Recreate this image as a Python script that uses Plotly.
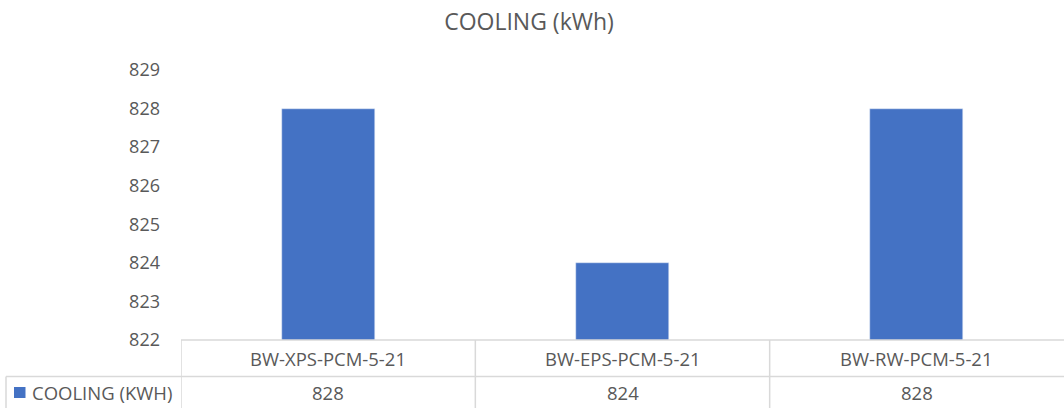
import plotly.graph_objects as go

categories = ["BW-XPS-PCM-5-21", "BW-EPS-PCM-5-21", "BW-RW-PCM-5-21"]
values = [828, 824, 828]
series_name = "COOLING (kWh)"
y_ticks = [822, 823, 824, 825, 826, 827, 828, 829]

W, H = 1064, 408
FONT = "Open Sans"
TXT = "#595959"
GRID = "#d9d9d9"
BLUE = "#4472C4"
TBL_SIZE = 18.5


def px(x):
    return x / W


def py(y):
    return 1 - y / H


fig = go.Figure(
    go.Bar(x=categories, y=values, marker_color=BLUE, width=0.316, name=series_name)
)

shapes = []
shapes.append(dict(type="line", xref="paper", yref="paper", x0=px(181), x1=1, y0=py(340), y1=py(340),
                   line=dict(color=GRID, width=1.5)))
shapes.append(dict(type="line", xref="paper", yref="paper", x0=px(6), x1=1, y0=py(376.5), y1=py(376.5),
                   line=dict(color=GRID, width=1.5)))
for b in [-0.5, 0.5, 1.5]:
    shapes.append(dict(type="line", xref="x", yref="paper", x0=b, x1=b, y0=py(340), y1=0,
                       line=dict(color=GRID, width=1.5)))
shapes.append(dict(type="line", xref="paper", yref="paper", x0=px(6), x1=px(6), y0=py(376.5), y1=0,
                   line=dict(color=GRID, width=1.5)))
shapes.append(dict(type="rect", xref="paper", yref="paper", x0=px(14), x1=px(25.5), y0=py(398), y1=py(387),
                   fillcolor=BLUE, line=dict(width=0)))

annotations = []
for c, v in zip(categories, values):
    annotations.append(dict(x=c, xref="x", y=py(358), yref="paper", text=c, showarrow=False,
                            font=dict(family=FONT, size=TBL_SIZE, color=TXT), xanchor="center", yanchor="middle"))
    annotations.append(dict(x=c, xref="x", y=py(392), yref="paper", text=str(v), showarrow=False,
                            font=dict(family=FONT, size=TBL_SIZE, color=TXT), xanchor="center", yanchor="middle"))
annotations.append(dict(x=px(30), xref="paper", y=py(392), yref="paper", text=series_name.upper(),
                        showarrow=False, font=dict(family=FONT, size=TBL_SIZE, color=TXT),
                        xanchor="left", yanchor="middle"))

fig.update_layout(
    width=W, height=H,
    margin=dict(l=0, r=0, t=0, b=0),
    paper_bgcolor="white", plot_bgcolor="white",
    showlegend=False,
    title=dict(text="COOLING (kWh)", x=px(529), y=py(22), xanchor="center", yanchor="middle",
               font=dict(family=FONT, size=23, color=TXT)),
    xaxis=dict(domain=[px(181), 1], range=[-0.5, 2.5], showticklabels=False, showline=False,
               showgrid=False, zeroline=False, ticks="", automargin=False),
    yaxis=dict(domain=[py(340), py(70)], range=[822, 829], tickvals=y_ticks, showgrid=False,
               zeroline=False, showline=False, ticks="", ticklabelstandoff=20, automargin=False,
               tickfont=dict(family=FONT, size=18, color=TXT)),
    shapes=shapes,
    annotations=annotations,
    bargap=0,
)

fig.write_html(
    "out.html",
    config=dict(displayModeBar=False),
    post_script="document.body.style.margin='0';document.body.style.overflow='hidden';",
)
